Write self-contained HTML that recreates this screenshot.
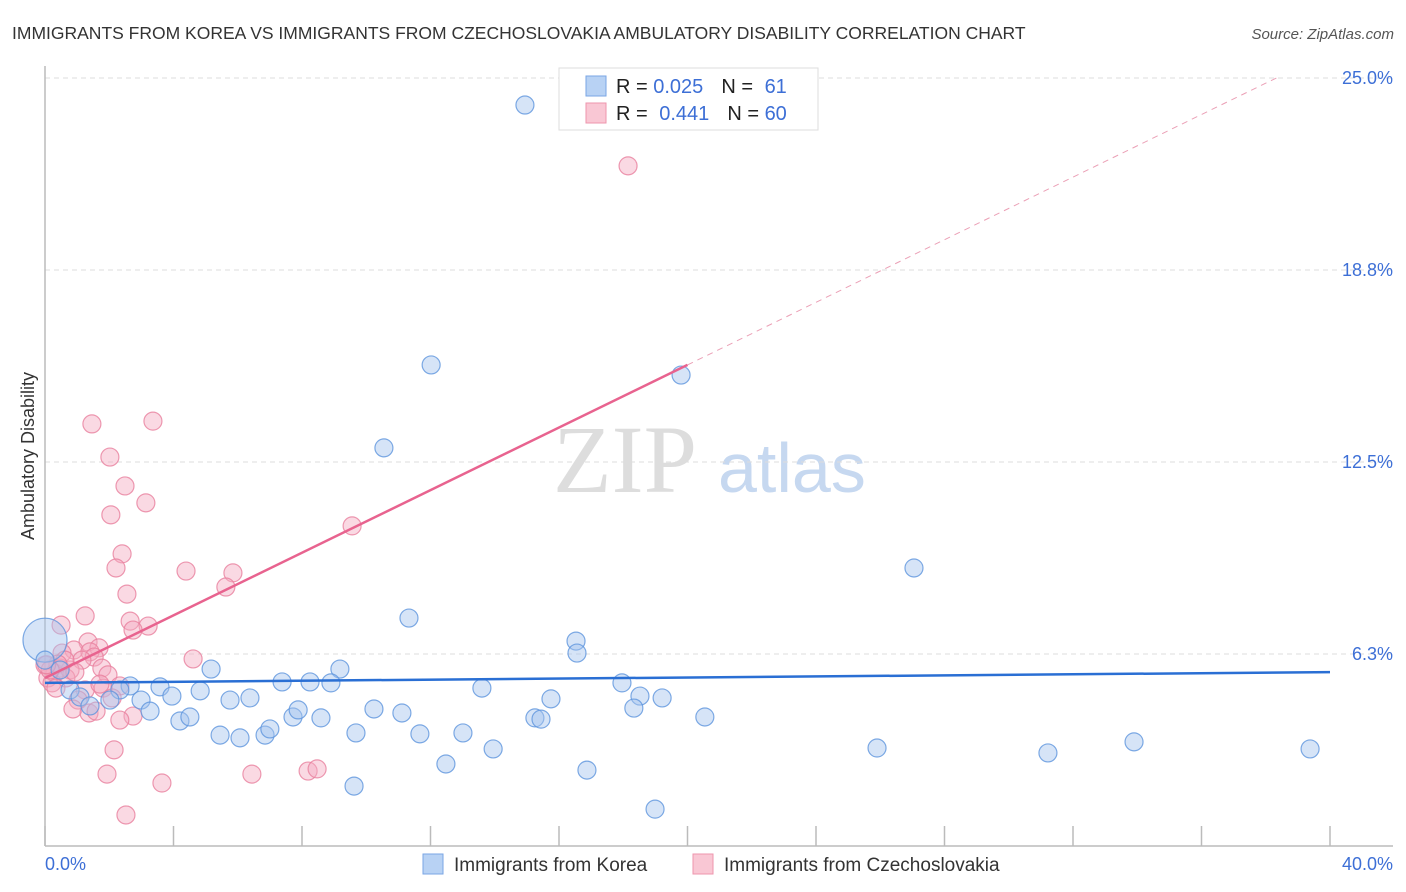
<!DOCTYPE html>
<html><head><meta charset="utf-8">
<style>
body{margin:0;background:#fff;font-family:"Liberation Sans",sans-serif;}
svg{display:block}
</style></head>
<body>
<svg id="chart" width="1406" height="892">
<text x="12" y="39" font-size="17.5" fill="#333">IMMIGRANTS FROM KOREA VS IMMIGRANTS FROM CZECHOSLOVAKIA AMBULATORY DISABILITY CORRELATION CHART</text>
<text x="1394" y="39" font-size="15" fill="#555" font-style="italic" text-anchor="end">Source: ZipAtlas.com</text>
<g>
<text x="553" y="492" font-size="96" font-family="Liberation Serif,serif" fill="#ddd">ZIP</text>
<text x="718" y="492" font-size="70" fill="#c6d8f0">atlas</text>
</g>
<g id="grid"></g>
<g id="axes"></g>
<g id="pts"></g>
<g id="lines"></g>
<text transform="translate(34,456) rotate(-90)" font-size="18" fill="#333" text-anchor="middle">Ambulatory Disability</text>
<text x="45" y="870" font-size="18" fill="#3d6fd6">0.0%</text>
<text x="1393" y="870" font-size="18" fill="#3d6fd6" text-anchor="end">40.0%</text>
<g>
<rect x="559" y="68" width="259" height="62" fill="#fff" stroke="#ddd"/>
<rect x="586" y="76" width="20" height="20" fill="#b8d2f4" stroke="#7aa6e4"/>
<rect x="586" y="103" width="20" height="20" fill="#f9c7d4" stroke="#ee95ad"/>
<text x="616" y="93" font-size="20" fill="#222">R = <tspan fill="#3d6fd6">0.025</tspan><tspan dx="18">N = </tspan><tspan fill="#3d6fd6" dx="6">61</tspan></text>
<text x="616" y="120" font-size="20" fill="#222">R = <tspan fill="#3d6fd6" dx="6">0.441</tspan><tspan dx="18">N = </tspan><tspan fill="#3d6fd6">60</tspan></text>
</g>
<g>
<rect x="423" y="854" width="20" height="20" fill="#b8d2f4" stroke="#7aa6e4"/>
<text x="454" y="871" font-size="19" fill="#333">Immigrants from Korea</text>
<rect x="693" y="854" width="20" height="20" fill="#f9c7d4" stroke="#ee95ad"/>
<text x="724" y="871" font-size="19" fill="#333">Immigrants from Czechoslovakia</text>
</g>
</svg>
<script>
const yTicks=[25,18.75,12.5,6.25];
const yTickLabels=["25.0%","18.8%","12.5%","6.3%"];
const xTicks=[0,4,8,12,16,20,24,28,32,36,40];
const koreaX=[14.94,12.02,19.80,10.55,27.05,11.33,16.53,16.56,9.18,5.17,7.38,8.25,8.90,3.58,2.65,2.33,0.78,1.09,2.02,2.99,3.95,4.83,5.76,6.38,13.60,17.96,18.52,19.21,15.75,18.33,1.40,3.27,4.20,4.51,6.07,5.45,6.85,7.00,7.72,7.88,8.59,10.24,11.11,9.68,11.67,13.01,15.25,15.44,20.54,13.95,12.48,16.87,9.62,18.99,25.90,31.22,33.90,39.38,0.0,0.0,0.47];
const koreaY=[24.12,15.66,15.33,12.96,9.05,7.42,6.67,6.28,5.76,5.76,5.34,5.34,5.31,5.18,5.21,5.08,5.08,4.85,4.75,4.75,4.88,5.05,4.75,4.82,5.14,5.31,4.88,4.82,4.79,4.49,4.56,4.39,4.07,4.20,3.52,3.61,3.61,3.81,4.20,4.43,4.17,4.46,4.33,3.68,3.65,3.68,4.17,4.13,4.20,3.16,2.67,2.47,1.95,1.20,3.19,3.03,3.39,3.16,6.7,6.05,5.73];
const czechX=[18.15,3.36,1.46,2.02,2.49,3.14,2.05,9.56,2.40,4.39,2.21,5.85,5.63,2.55,1.25,0.50,2.65,3.21,2.74,1.34,1.68,0.90,1.40,0.53,1.53,4.61,1.15,1.77,0.00,0.47,0.31,1.96,0.78,0.09,0.22,1.25,2.33,1.81,1.03,0.87,1.37,1.59,2.74,2.33,2.15,1.93,3.64,6.44,8.19,8.47,2.52,0.62,0.40,0.65,0.93,0.16,1.71,2.09,0.34,0.05];
const czechY=[22.14,13.83,13.74,12.66,11.72,11.17,10.78,10.42,9.51,8.95,9.05,8.89,8.43,8.20,7.49,7.19,7.32,7.16,7.03,6.64,6.45,6.38,6.32,6.28,6.15,6.09,6.05,5.79,5.89,5.79,5.63,5.57,5.73,5.47,5.31,5.08,5.21,5.14,4.75,4.46,4.33,4.39,4.23,4.10,3.13,2.34,2.05,2.34,2.44,2.51,1.01,6.05,5.92,5.47,5.66,5.73,5.27,4.82,5.14,5.9];
const koreaTrend=[5.31,0.00875]; // intercept, slope
const czechTrend=[5.47,0.5095];
const solidEnd=20;
const ns="http://www.w3.org/2000/svg";
const X0=45,X1=1330,YT=78,YB=846;
const xs=v=>X0+(X1-X0)*v/40;
const ys=v=>YB-(YB-YT)*v/25;
function mk(tag,attrs,parent){const e=document.createElementNS(ns,tag);for(const k in attrs)e.setAttribute(k,attrs[k]);document.getElementById(parent).appendChild(e);return e;}
yTicks.forEach((t,i)=>{
 const l=mk('line',{x1:X0,x2:1393,y1:ys(t),y2:ys(t),stroke:'#ddd','stroke-dasharray':'5,4'},'grid');
 
 
 const tx=mk('text',{x:1393,y:ys(t)+6,'font-size':18,fill:'#3d6fd6','text-anchor':'end'},'grid');
 tx.textContent=yTickLabels[i];
 
 
});
const ax=mk('line',{x1:X0,x2:X0,y1:66,y2:YB,stroke:'#bbb','stroke-width':1.5},'axes');


const bx=mk('line',{x1:X0,x2:1393,y1:YB,y2:YB,stroke:'#bbb','stroke-width':1.5},'axes');


xTicks.forEach(t=>{
 const l=mk('line',{x1:xs(t),x2:xs(t),y1:826,y2:YB,stroke:'#bbb','stroke-width':1.5},'axes');
 
 
});
function drawPts(X,Y,fill,stroke,name){
 X.forEach((x,i)=>{
  const r=(x===0&&Y[i]>6.5)?22:9;
  const c=mk('circle',{cx:xs(x),cy:ys(Y[i]),r:r,fill:fill,'fill-opacity':0.45,stroke:stroke,'stroke-opacity':0.8,'stroke-width':1.2},'pts');
  
  
 });
}
drawPts(czechX,czechY,'#f5aac0','#e8809e','czech-point');
drawPts(koreaX,koreaY,'#a4c4ee','#5e95dd','korea-point');
const kl=mk('line',{x1:xs(0),y1:ys(koreaTrend[0]),x2:xs(40),y2:ys(koreaTrend[0]+koreaTrend[1]*40),stroke:'#2a6fd4','stroke-width':2.5},'lines');


const cl=mk('line',{x1:xs(0),y1:ys(czechTrend[0]),x2:xs(solidEnd),y2:ys(czechTrend[0]+czechTrend[1]*solidEnd),stroke:'#e8638f','stroke-width':2.5},'lines');


const xe=(25-czechTrend[0])/czechTrend[1];
const cd=mk('line',{x1:xs(solidEnd),y1:ys(czechTrend[0]+czechTrend[1]*solidEnd),x2:xs(xe),y2:ys(25),stroke:'#eba0b6','stroke-width':1,'stroke-dasharray':'6,5'},'lines');


</script>
</body></html>
